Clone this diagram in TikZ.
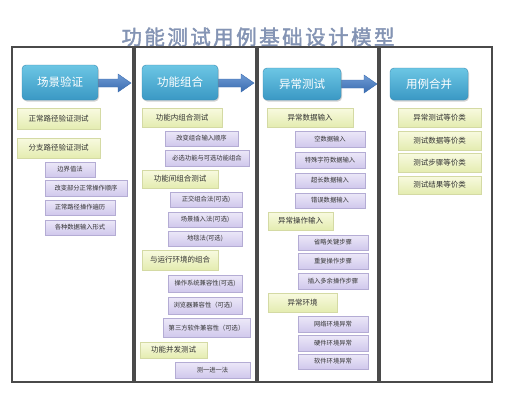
\documentclass[tikz,border=0pt]{standalone}
\usepackage{fontspec}
\setmainfont{Noto Sans CJK SC}
\newfontfamily\titlefont{Noto Sans CJK SC}[LetterSpace=12,FakeBold=2]
\usetikzlibrary{shadows}
\definecolor{titlecol}{HTML}{8494B4}
\definecolor{framecol}{HTML}{4A4A4A}
\definecolor{headtop}{HTML}{6CC6E4}
\definecolor{headbot}{HTML}{3A98C4}
\definecolor{headdraw}{HTML}{3A8CB4}
\definecolor{arrtop}{HTML}{6E9AD4}
\definecolor{arrbot}{HTML}{3A6CB0}
\definecolor{yeltop}{HTML}{F8FAE0}
\definecolor{yelbot}{HTML}{E4ECB0}
\definecolor{yeldraw}{HTML}{D4DAA4}
\definecolor{purtop}{HTML}{ECE8F8}
\definecolor{purbot}{HTML}{D0C8EC}
\definecolor{purdraw}{HTML}{B4ACD4}
\definecolor{txtcol}{HTML}{333333}
\tikzset{
  colframe/.style={draw=framecol, line width=1.1pt},
  headbox/.style={rounded corners=4pt, draw=headdraw, top color=headtop, bottom color=headbot,
    text=white, font=\fontsize{11.5}{12}\selectfont, inner sep=0pt,
    drop shadow={shadow xshift=1pt, shadow yshift=-1.5pt, opacity=0.35}},
  ybox/.style={draw=yeldraw, top color=yeltop, bottom color=yelbot, text=txtcol,
    font=\fontsize{7.5}{8}\selectfont, inner sep=0pt,
    drop shadow={shadow xshift=0.8pt, shadow yshift=-0.8pt, opacity=0.2}},
  pbox/.style={draw=purdraw, top color=purtop, bottom color=purbot, text=txtcol,
    font=\fontsize{6.3}{7}\selectfont, inner sep=0pt,
    drop shadow={shadow xshift=0.8pt, shadow yshift=-0.8pt, opacity=0.3}},
  bigarrow/.style={top color=arrtop, bottom color=arrbot, draw=arrbot, line width=0.4pt}
}
\begin{document}
\begin{tikzpicture}[x=1pt,y=-1pt]
\useasboundingbox (0,0) rectangle (508,400);
\fill[white] (0,0) rectangle (508,400);
% title
\node[text=titlecol, font=\titlefont\fontsize{20.5}{21}\selectfont, inner sep=0pt] (title) at (258,37) {功能测试用例基础设计模型};
% column frames
\draw[colframe] (12,47) rectangle (133,382);
\draw[colframe] (135,47) rectangle (256,382);
\draw[colframe] (258,47) rectangle (378,382);
\draw[colframe] (380,47) rectangle (492,382);
% arrows (start hidden under the header boxes)
\coordinate (a1) at (94,83);
\coordinate (a2) at (214,83);
\coordinate (a3) at (337,84);
\path[bigarrow] (a1) ++(0,-4) -- ++(24,0) -- ++(0,-5) -- ++(13,9) -- ++(-13,9) -- ++(0,-5) -- ++(-24,0) -- cycle;
\path[bigarrow] (a2) ++(0,-4) -- ++(27,0) -- ++(0,-5) -- ++(13,9) -- ++(-13,9) -- ++(0,-5) -- ++(-27,0) -- cycle;
\path[bigarrow] (a3) ++(0,-4) -- ++(27,0) -- ++(0,-5) -- ++(13,9) -- ++(-13,9) -- ++(0,-5) -- ++(-27,0) -- cycle;
% headers
\node[headbox, minimum width=76pt, minimum height=35pt] (h1) at (60,82.5) {场景验证};
\node[headbox, minimum width=76pt, minimum height=35pt] (h2) at (180,82.5) {功能组合};
\node[headbox, minimum width=78pt, minimum height=32pt] (h3) at (302,84) {异常测试};
\node[headbox, minimum width=78pt, minimum height=32pt] (h4) at (429,84) {用例合并};
% column 1
\node[ybox, minimum width=83pt, minimum height=21pt] (y11) at (58.5,119) {正常路径验证测试};
\node[ybox, minimum width=83pt, minimum height=20pt] (y12) at (58.5,148) {分支路径验证测试};
\node[pbox, minimum width=50pt, minimum height=15pt] (p11) at (70,169.5) {边界值法};
\node[pbox, minimum width=82pt, minimum height=16pt] (p12) at (86,188.5) {改变部分正常操作顺序};
\node[pbox, minimum width=70pt, minimum height=15pt] (p13) at (80,207.5) {正常路径操作遍历};
\node[pbox, minimum width=70pt, minimum height=15pt] (p14) at (80,227.5) {各种数据输入形式};
% column 2
\node[ybox, minimum width=80pt, minimum height=19pt] (y21) at (182,117.5) {功能内组合测试};
\node[pbox, minimum width=73pt, minimum height=15pt] (p21) at (201.5,138.5) {改变组合输入顺序};
\node[pbox, minimum width=84pt, minimum height=16pt] (p22) at (207,158) {必选功能与可选功能组合};
\node[ybox, minimum width=76pt, minimum height=18pt] (y22) at (180,179) {功能间组合测试};
\node[pbox, minimum width=72pt, minimum height=15pt] (p23) at (206,199.5) {正交组合法(可选)};
\node[pbox, minimum width=74pt, minimum height=15pt] (p24) at (205,219.5) {场景插入法(可选)};
\node[pbox, minimum width=74pt, minimum height=15pt] (p25) at (205,238.5) {地毯法(可选)};
\node[ybox, minimum width=76pt, minimum height=20pt] (y23) at (180,260) {与运行环境的组合};
\node[pbox, minimum width=74pt, minimum height=17pt] (p26) at (205,283.5) {操作系统兼容性(可选)};
\node[pbox, minimum width=74pt, minimum height=17pt] (p27) at (205,305.5) {浏览器兼容性（可选）};
\node[pbox, minimum width=87pt, minimum height=19pt] (p28) at (206.5,328) {第三方软件兼容性（可选）};
\node[ybox, minimum width=67pt, minimum height=16pt] (y24) at (173.5,350) {功能并发测试};
\node[pbox, minimum width=75pt, minimum height=16pt] (p29) at (212.5,370) {测一进一法};
% column 3
\node[ybox, minimum width=86pt, minimum height=19pt] (y31) at (310,117.5) {异常数据输入};
\node[pbox, minimum width=70pt, minimum height=16pt] (p31) at (330,139) {空数据输入};
\node[pbox, minimum width=70pt, minimum height=16pt] (p32) at (330,160) {特殊字符数据输入};
\node[pbox, minimum width=70pt, minimum height=15pt] (p33) at (330,180.5) {超长数据输入};
\node[pbox, minimum width=70pt, minimum height=15pt] (p34) at (330,200.5) {错误数据输入};
\node[ybox, minimum width=65pt, minimum height=18pt] (y32) at (300.5,221) {异常操作输入};
\node[pbox, minimum width=70pt, minimum height=15pt] (p35) at (333,242.5) {省略关键步骤};
\node[pbox, minimum width=70pt, minimum height=16pt] (p36) at (333,261.5) {重复操作步骤};
\node[pbox, minimum width=70pt, minimum height=16pt] (p37) at (333,281) {插入多余操作步骤};
\node[ybox, minimum width=69pt, minimum height=19pt] (y33) at (302.5,302.5) {异常环境};
\node[pbox, minimum width=70pt, minimum height=16pt] (p38) at (333,324) {网络环境异常};
\node[pbox, minimum width=70pt, minimum height=16pt] (p39) at (333,343) {硬件环境异常};
\node[pbox, minimum width=70pt, minimum height=15pt] (p3a) at (333,361.5) {软件环境异常};
% column 4
\node[ybox, minimum width=83pt, minimum height=19pt] (q1) at (439.5,117.5) {异常测试等价类};
\node[ybox, minimum width=83pt, minimum height=19pt] (q2) at (439.5,140.5) {测试数据等价类};
\node[ybox, minimum width=83pt, minimum height=19pt] (q3) at (439.5,163) {测试步骤等价类};
\node[ybox, minimum width=83pt, minimum height=18pt] (q4) at (439.5,185) {测试结果等价类};
\end{tikzpicture}
\end{document}
